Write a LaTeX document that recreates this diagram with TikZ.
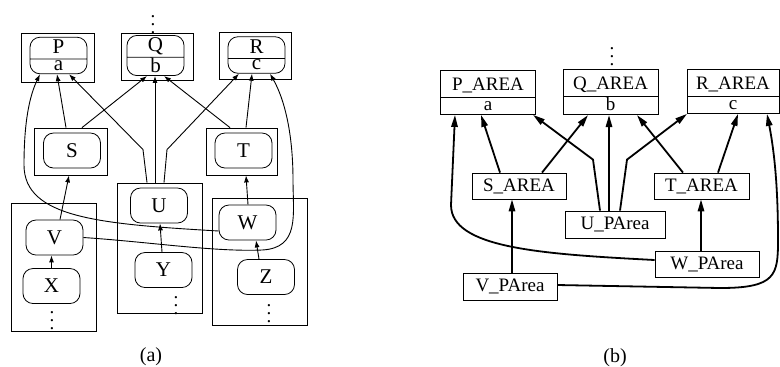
\documentclass[tikz,border=0pt]{standalone}
\usepackage{fontspec}
\setmainfont{Liberation Serif}
\usetikzlibrary{arrows.meta, shapes.multipart, calc}
\newcommand{\objlabel}[2]{\rule[-2.5pt]{0pt}{10.5pt}#1\nodepart{two}\rule[-1.5pt]{0pt}{7pt}#2}
\newcommand{\arealabel}[2]{\rule[-3.5pt]{0pt}{13.25pt}#1\nodepart{two}\rule[-2pt]{0pt}{8pt}#2}

\begin{document}
\begin{tikzpicture}[x=0.5pt, y=-0.5pt,
    grp/.style={draw, inner sep=0pt},
    obj/.style={draw, rounded corners=5pt, minimum width=28.5pt, minimum height=17.5pt,
        inner sep=0pt, font=\fontsize{10.5}{12}\selectfont},
    objsplit/.style={obj, minimum height=0pt, rectangle split, rectangle split parts=2},
    area/.style={draw, rectangle split, rectangle split parts=2, minimum width=47.5pt,
        inner sep=0pt, anchor=north, font=\fontsize{9.5}{11}\selectfont},
    areabox/.style={draw, minimum width=47pt, minimum height=13pt, inner sep=0pt,
        font=\fontsize{9.5}{11}\selectfont},
    more/.style={inner sep=0pt, font=\fontsize{9.5}{11}\selectfont},
    link/.style={-{Latex[length=3.5pt,width=2.5pt]}, line width=0.45pt},
    hlink/.style={-{Triangle[length=6pt,width=3.2pt]}, line width=0.9pt},
    caption/.style={font=\fontsize{10}{12}\selectfont}]
    \useasboundingbox (0,0) rectangle (780,366);

    % --- (a): objects in their boxes ---
    \begin{scope}
        \node[more] (topdots) at (153,18.5) {$\vdots$};
        \node[grp, minimum width=36.5pt, minimum height=24.5pt] (pbox) at (57.5,57.5) {};
        \node[grp, minimum width=36pt, minimum height=23.5pt] (qbox) at (157,56.5) {};
        \node[grp, minimum width=36pt, minimum height=23.5pt] (rbox) at (255,55.5) {};
        \node[grp, minimum width=36.5pt, minimum height=23.5pt] (sbox) at (70.5,151.5) {};
        \node[grp, minimum width=35.5pt, minimum height=23.5pt] (tbox) at (241.5,151.5) {};
        \node[grp, minimum width=42.5pt, minimum height=65pt] (ubox) at (159.5,248) {};
        \node[grp, minimum width=42.5pt, minimum height=64pt] (vbox) at (53.5,267) {};
        \node[grp, minimum width=47.5pt, minimum height=63.5pt] (wbox) at (259.5,261.5) {};

        \node[objsplit] (p) at (58.5,55.5) {\objlabel{P}{a}};
        \node[objsplit] (q) at (155.5,55.5) {\objlabel{Q}{b}};
        \node[objsplit] (r) at (256.5,55) {\objlabel{R}{c}};
        \node[obj] (s) at (72,150.5) {S};
        \node[obj] (t) at (243.5,150.5) {T};
        \node[obj] (u) at (159,205.5) {U};
        \node[obj] (y) at (163.5,270) {Y};
        \node[obj] (v) at (54.5,237.5) {V};
        \node[obj] (x) at (51.5,286) {X};
        \node[obj] (w) at (247.5,222.5) {W};
        \node[obj] (z) at (266,277) {Z};
        \node[more] (xdots) at (52,315) {$\vdots$};
        \node[more] (ydots) at (176,300) {$\vdots$};
        \node[more] (zdots) at (269,307.5) {$\vdots$};

        \draw[link] ($(sbox.north)+(-4.5,0)$) -- ($(p.south)+(-1.5,0)$);
        \draw[link] ($(sbox.north)+(11.5,0)$) -- ($(q.south)+(-8.5,0)$);
        \draw[link] ($(ubox.north)+(-12.5,0)$) -- ++(-4,-33) -- ($(p.south)+(10.5,0)$);
        \draw[link] ($(ubox.north)+(-4.5,0)$) -- ($(q.south)+(-0.5,0)$);
        \draw[link] ($(ubox.north)+(4.5,0)$) -- ++(3,-33) -- ($(r.south)+(-17.5,0)$);
        \draw[link] ($(tbox.north)+(-11.5,0)$) -- ($(q.south)+(8.5,0)$);
        \draw[link] ($(tbox.north)+(4.5,0)$) -- ($(r.south)+(-4.5,0)$);
        \draw[link] ($(v.north)+(5.5,0)$) -- ($(sbox.south)+(-1.5,0)$);
        \draw[link] (x.north) -- (x.north |- v.south);
        \draw[link] ($(y.north)+(-1.5,0)$) -- ($(u.south)+(1,0)$);
        \draw[link] ($(z.north)+(-7,0)$) -- ($(w.south)+(8.5,0)$);
        \draw[link] ($(w.north)+(0.5,0)$) -- ($(tbox.south)+(4.5,0)$);
        % long ones
        \draw[link] ($(w.west)+(0,8.5)$) .. controls (100,224) and (24,218) .. (24,165)
            .. controls (24,120) and (30,95) .. ($(p.south)+(-18.5,0)$);
        \draw[link] (v.east) .. controls (150,242) and (215,252) .. (262,250)
            .. controls (300,248) and (293,215) .. (293,180)
            .. controls (293,135) and (285,100) .. ($(r.south)+(13.5,0)$);

        \node[caption] (capa) at (151,357) {(a)};
    \end{scope}

    % --- (b): the areas ---
    \begin{scope}[shift={(390,0)}]
        \node[more] (areadots) at (222,50.5) {$\vdots$};
        \node[area] (pa) at (98,70) {\arealabel{P\_AREA}{a}};
        \node[area] (qa) at (220.5,69) {\arealabel{Q\_AREA}{b}};
        \node[area, minimum width=46pt] (ra) at (343,69) {\arealabel{R\_AREA}{c}};
        \node[areabox] (sa) at (129,186) {S\_AREA};
        \node[areabox, minimum width=47.5pt] (ta) at (311.5,186) {T\_AREA};
        \node[areabox, minimum width=50pt, minimum height=13.5pt] (ua) at (225,224.5) {U\_PArea};
        \node[areabox, minimum width=52pt] (wa) at (317,264) {W\_PArea};
        \node[areabox, minimum height=13.5pt] (va) at (120,286.5) {V\_PArea};

        \draw[hlink] ($(sa.north)+(-19,0)$) -- ($(pa.south)+(-7,0)$);
        \draw[hlink] ($(sa.north)+(23,0)$) -- ($(qa.south)+(-22.5,0)$);
        \draw[hlink] ($(ua.north)+(-15,0)$) -- ++(-7,-51) -- ($(pa.south)+(45,0)$);
        \draw[hlink] ($(ua.north)+(-6,0)$) -- ($(qa.south)+(-1.5,0)$);
        \draw[hlink] ($(ua.north)+(5,0)$) -- ++(7,-51) -- ($(ra.south)+(-46,0)$);
        \draw[hlink] ($(ta.north)+(-18.5,0)$) -- ($(qa.south)+(26.5,0)$);
        \draw[hlink] ($(ta.north)+(16.5,0)$) -- ($(ra.south)+(5,0)$);
        \draw[hlink] ($(va.north)+(2,0)$) -- ($(sa.south)+(-7,0)$);
        \draw[hlink] ($(wa.north)+(-6,0)$) -- ($(ta.south)+(-0.5,0)$);
        % long ones
        \draw[hlink] ($(wa.west)+(0,-4)$) .. controls (150,254) and (61,248) .. (61,205)
            -- ($(pa.south)+(-33,0)$);
        \draw[hlink] ($(va.east)+(0,-1.5)$) -- (330,288) .. controls (386,288) and (388,275) .. (388,240)
            .. controls (388,200) and (386,160) .. ($(ra.south)+(34,0)$);

        \node[caption] (capb) at (225,358) {(b)};
    \end{scope}
\end{tikzpicture}
\end{document}
